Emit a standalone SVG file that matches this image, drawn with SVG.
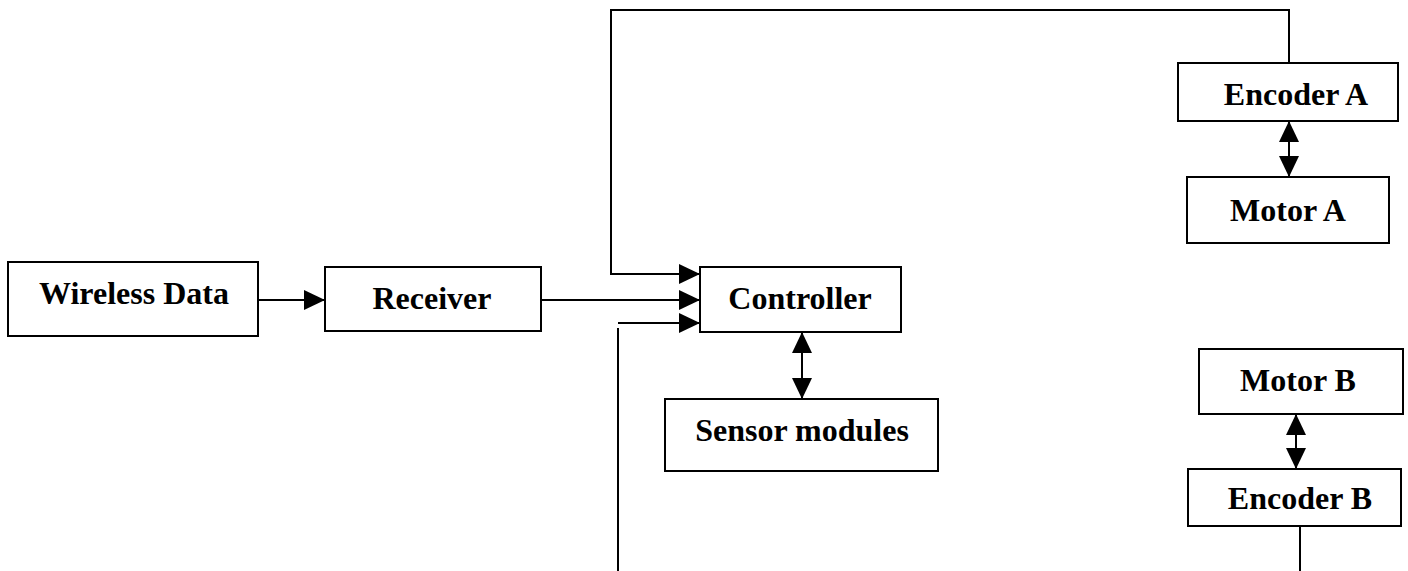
<svg xmlns="http://www.w3.org/2000/svg" width="1408" height="571" viewBox="0 0 1408 571">
  <style>
    .box { fill: #fff; stroke: #000; stroke-width: 2; }
    .lbl { font-family: "Liberation Serif", "Times New Roman", serif; font-weight: bold; font-size: 32px; fill: #000; text-anchor: middle; }
    .wire { fill: none; stroke: #000; stroke-width: 2; }
  </style>
  <defs>
    <marker id="head" viewBox="0 0 21 20" refX="21" refY="10" markerWidth="21" markerHeight="20" markerUnits="userSpaceOnUse" orient="auto-start-reverse">
      <path d="M0,0 L21,10 L0,20 Z" fill="#000"/>
    </marker>
  </defs>

  <rect width="1408" height="571" fill="#fff"/>

  <!-- connectors -->
  <g id="connectors">
    <line class="wire" x1="258" y1="300" x2="325" y2="300" marker-end="url(#head)"/>
    <line class="wire" x1="541" y1="300" x2="700" y2="300" marker-end="url(#head)"/>
    <!-- feedback from Encoder A over the top -->
    <polyline class="wire" points="1289,63 1289,10 611,10 611,274 700,274" marker-end="url(#head)"/>
    <!-- feedback from Encoder B, running off the bottom edge -->
    <polyline class="wire" points="618,323 700,323" marker-end="url(#head)"/>
    <line class="wire" x1="618" y1="328" x2="618" y2="571"/>
    <line class="wire" x1="1300" y1="526" x2="1300" y2="571"/>
    <!-- bidirectional links -->
    <line class="wire" x1="802" y1="332" x2="802" y2="399" marker-start="url(#head)" marker-end="url(#head)"/>
    <line class="wire" x1="1289" y1="121" x2="1289" y2="177" marker-start="url(#head)" marker-end="url(#head)"/>
    <line class="wire" x1="1296" y1="414" x2="1296" y2="469" marker-start="url(#head)" marker-end="url(#head)"/>
  </g>

  <g id="wireless-data">
    <rect class="box" x="8" y="262" width="250" height="74"/>
    <text class="lbl" x="134" y="304">Wireless Data</text>
  </g>
  <g id="receiver">
    <rect class="box" x="325" y="267" width="216" height="64"/>
    <text class="lbl" x="432" y="309">Receiver</text>
  </g>
  <g id="controller">
    <rect class="box" x="700" y="267" width="201" height="65"/>
    <text class="lbl" x="800" y="309">Controller</text>
  </g>
  <g id="sensor-modules">
    <rect class="box" x="665" y="399" width="273" height="72"/>
    <text class="lbl" x="802" y="441">Sensor modules</text>
  </g>
  <g id="encoder-a">
    <rect class="box" x="1178" y="63" width="220" height="58"/>
    <text class="lbl" x="1296" y="105">Encoder A</text>
  </g>
  <g id="motor-a">
    <rect class="box" x="1187" y="177" width="202" height="66"/>
    <text class="lbl" x="1288" y="221">Motor A</text>
  </g>
  <g id="motor-b">
    <rect class="box" x="1199" y="349" width="204" height="65"/>
    <text class="lbl" x="1298" y="391">Motor B</text>
  </g>
  <g id="encoder-b">
    <rect class="box" x="1188" y="469" width="213" height="57"/>
    <text class="lbl" x="1300" y="509">Encoder B</text>
  </g>
</svg>
